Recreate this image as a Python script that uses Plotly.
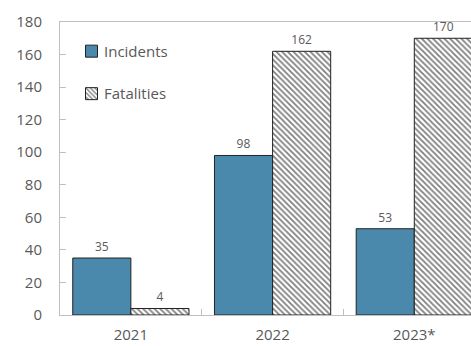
import plotly.graph_objects as go

years = ["2021", "2022", "2023*"]
incidents = [35, 98, 53]
fatalities = [4, 162, 170]
series_names = ["Incidents", "Fatalities"]

font_family = "Open Sans, Noto Sans, sans-serif"
label_color = "#595959"
edge = dict(color="#222222", width=1)

fig = go.Figure()
fig.add_trace(go.Bar(
    name=" ", x=years, y=incidents,
    marker=dict(color="#4a89ab", line=edge),
    text=[str(v) for v in incidents], textposition="outside",
    textfont=dict(size=12, color=label_color), cliponaxis=False,
    legendgroup="a", hovertext=series_names[0],
))
fig.add_trace(go.Bar(
    name="  ", x=years, y=fatalities,
    marker=dict(color="white", line=edge,
                pattern=dict(shape="\\", size=4, solidity=0.45,
                             fgcolor="black", bgcolor="white")),
    text=[str(v) for v in fatalities], textposition="outside",
    textfont=dict(size=12, color=label_color), cliponaxis=False,
    legendgroup="b", hovertext=series_names[1],
))

# legend labels sit close to their swatches
for name, ypos in zip(series_names, [0.901, 0.758]):
    fig.add_annotation(text=name, xref="paper", yref="paper",
                       x=0.1034, y=ypos, xanchor="left", yanchor="middle",
                       showarrow=False, font=dict(size=15, color=label_color))

fig.update_layout(
    width=471, height=346,
    margin=dict(l=60, r=0, t=22, b=31, autoexpand=False),
    paper_bgcolor="white", plot_bgcolor="white",
    font=dict(family=font_family, color=label_color),
    barmode="group", bargap=0.18, bargroupgap=0,
    showlegend=True,
    legend=dict(x=0.028, y=0.956, xanchor="left", yanchor="top",
                bgcolor="rgba(0,0,0,0)", font=dict(size=15, color=label_color),
                tracegroupgap=20, traceorder="grouped", itemwidth=30),
)
fig.update_xaxes(
    type="category", range=[-0.5, 2.40], automargin=False,
    showline=True, linecolor="#bfbfbf", linewidth=1, mirror=True,
    ticks="inside", tickson="boundaries", ticklen=6, tickcolor="#bfbfbf",
    tickfont=dict(size=15, color=label_color), ticklabelstandoff=6,
    showgrid=False, zeroline=False,
)
fig.update_yaxes(
    range=[0, 180], dtick=20, automargin=False,
    showline=True, linecolor="#bfbfbf", linewidth=1,
    ticks="inside", ticklen=6, tickcolor="#bfbfbf",
    tickfont=dict(size=15, color=label_color), ticklabelstandoff=14,
    showgrid=False, zeroline=False,
)

fig.write_html("out.html")
